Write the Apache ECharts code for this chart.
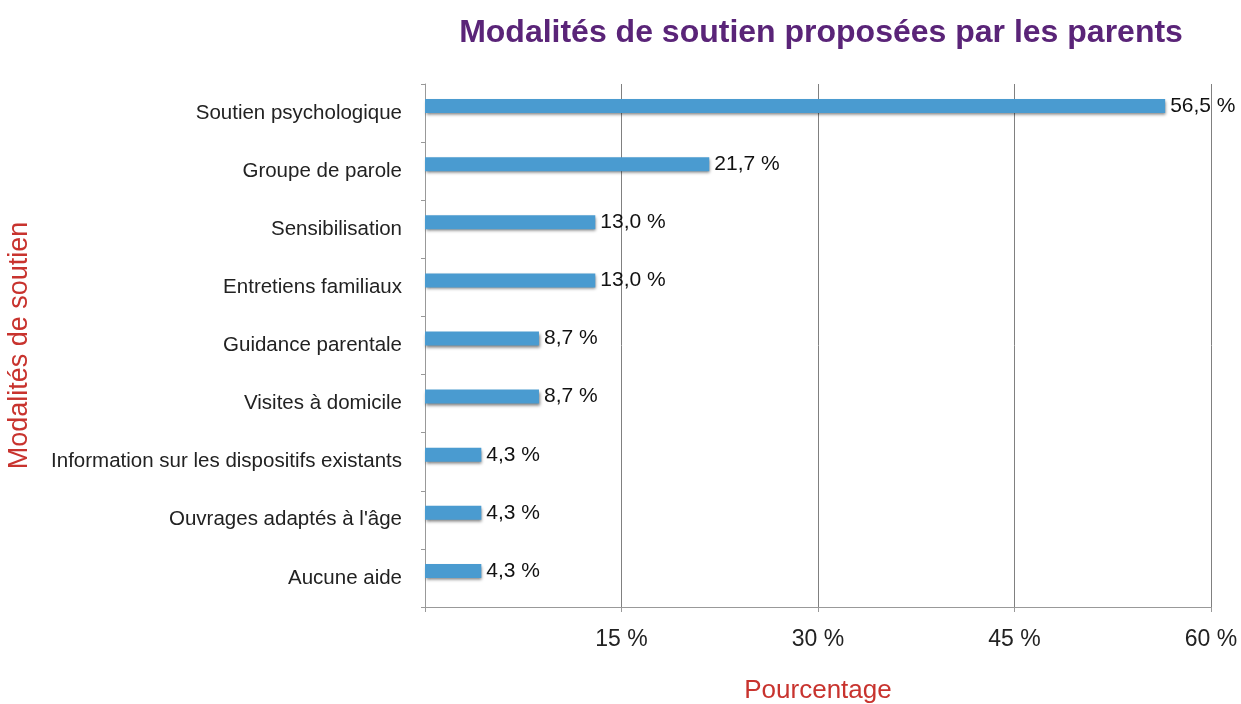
<!DOCTYPE html>
<html>
<head>
<meta charset="utf-8">
<script src="https://cdn.jsdelivr.net/npm/echarts@6/dist/echarts.min.js"></script>
<style>html,body{margin:0;padding:0;background:#fff;}#c{width:1241px;height:704px;}</style>
</head>
<body>
<div id="c"></div>
<script>
const categories = ["Soutien psychologique","Groupe de parole","Sensibilisation","Entretiens familiaux","Guidance parentale","Visites à domicile","Information sur les dispositifs existants","Ouvrages adaptés à l'âge","Aucune aide"];
const values = [56.5, 21.7, 13.0, 13.0, 8.7, 8.7, 4.3, 4.3, 4.3];
const xTicks = [0, 15, 30, 45, 60];
const spacer = categories.map(() => '-');

const chart = echarts.init(document.getElementById('c'));
const font = 'Liberation Sans, Arial, Helvetica, sans-serif';
chart.setOption({
  animation: false,
  title: {
    text: 'Modalités de soutien proposées par les parents',
    left: 816, top: 12, textAlign: 'center',
    textStyle: {fontFamily: font, fontSize: 32, fontWeight: 'bold', color: '#5a2478'}
  },
  grid: {left: 425, right: 30, top: 84, bottom: 97, containLabel: false, outerBoundsMode: 'none'},
  xAxis: {
    type: 'value', min: xTicks[0], max: xTicks[xTicks.length-1], interval: 15,
    name: 'Pourcentage', nameLocation: 'middle', nameGap: 71,
    nameTextStyle: {fontFamily: font, fontSize: 26, color: '#c8332e'},
    axisLine: {show: true, lineStyle: {color: '#999', width: 1}},
    axisTick: {show: true, length: 5, lineStyle: {color: '#999'}},
    axisLabel: {fontFamily: font, fontSize: 23, color: '#222', margin: 21,
      formatter: v => v === 0 ? '' : v + ' %'},
    splitLine: {show: true, lineStyle: {color: '#808080', width: 1}}
  },
  yAxis: {
    type: 'category', data: categories, inverse: true,
    name: 'Modalités de soutien', nameLocation: 'middle', nameGap: 392, nameRotate: 90,
    nameTextStyle: {fontFamily: font, fontSize: 27, color: '#c8332e'},
    axisLine: {show: true, lineStyle: {color: '#999', width: 1}},
    axisTick: {show: true, length: 4, lineStyle: {color: '#999'}},
    axisLabel: {fontFamily: font, fontSize: 20.5, color: '#222', margin: 23},
    splitLine: {show: false}
  },
  series: [
    {
      type: 'bar', data: values, barWidth: 14, barGap: '0%',
      itemStyle: {color: '#4a9bd0', shadowColor: 'rgba(0,0,0,0.5)', shadowBlur: 3, shadowOffsetY: 2, shadowOffsetX: 1},
      label: {show: true, position: 'right', distance: 5, fontFamily: font, fontSize: 21, color: '#111',
        formatter: p => p.value.toFixed(1).replace('.', ',') + ' %'}
    },
    {
      type: 'bar', data: spacer, barWidth: 14, silent: true,
      itemStyle: {color: 'rgba(0,0,0,0)'}
    }
  ]
});
</script>
</body>
</html>
